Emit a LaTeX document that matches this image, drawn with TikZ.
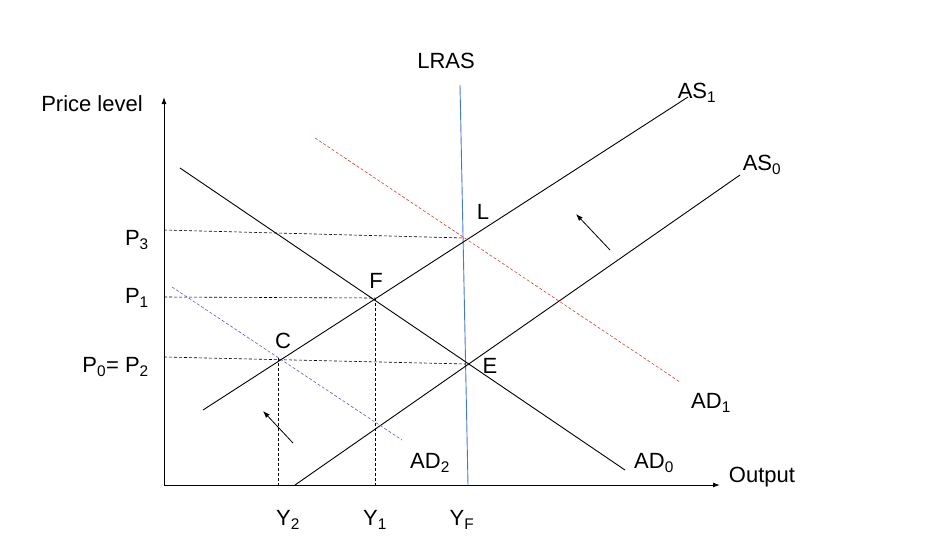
\documentclass[tikz,border=0pt]{standalone}
\usepackage{fontspec}
\setmainfont{Liberation Sans}
\usetikzlibrary{arrows.meta}
\newcommand{\sbs}[1]{\textsubscript{#1}}
\begin{document}
\begin{tikzpicture}[x=1pt,y=-1pt,
  lbl/.style={inner sep=0pt,font=\fontsize{22}{24}\selectfont},
  curve/.style={line width=0.9pt},
  guide/.style={dashed,line width=0.6pt,dash pattern=on 3pt off 2pt},
  ax/.style={line width=1pt,-{Latex[length=7pt,width=5pt]}}]
\useasboundingbox (0,0) rectangle (950,552);
% axes
\coordinate (O) at (164,485);
\coordinate (Ytop) at (164,97);
\coordinate (Xend) at (720,485);
\draw[ax] (O) -- (Ytop);
\draw[ax] (O) -- (Xend);
% curves
\coordinate (lr1) at (460,85); \coordinate (lr2) at (468,485);
\draw[curve,color={rgb,255:red,70;green,120;blue,210}] (lr1) -- (lr2);
\coordinate (as1a) at (203,410); \coordinate (as1b) at (688,97);
\draw[curve] (as1a) -- (as1b);
\coordinate (as0a) at (295,485); \coordinate (as0b) at (740,175);
\draw[curve] (as0a) -- (as0b);
\coordinate (ad0a) at (180,168); \coordinate (ad0b) at (625,470);
\draw[curve] (ad0a) -- (ad0b);
\coordinate (ad1a) at (315,138); \coordinate (ad1b) at (680,382);
\draw[guide,color={rgb,255:red,220;green,60;blue,50}] (ad1a) -- (ad1b);
\coordinate (ad2a) at (172,287); \coordinate (ad2b) at (402,440);
\draw[guide,color={rgb,255:red,110;green,80;blue,200}] (ad2a) -- (ad2b);
% points
\coordinate (L) at (464,238);
\coordinate (F) at (375,298);
\coordinate (C) at (278,358);
\coordinate (E) at (466,364);
\draw[guide] (164,230) -- (L);
\draw[guide] (164,297) -- (F);
\draw[guide] (164,357) -- (E);
\draw[guide] (C) -- (C |- O);
\draw[guide] (F) -- (F |- O);
% arrows
\coordinate (a1s) at (610,250); \coordinate (a1e) at (576,214);
\draw[line width=0.8pt,-{Latex[length=7pt,width=5pt]}] (a1s) -- (a1e);
\coordinate (a2s) at (293,443); \coordinate (a2e) at (263,411);
\draw[line width=0.8pt,-{Latex[length=7pt,width=5pt]}] (a2s) -- (a2e);
% labels
\node[lbl] (tLRAS) at (446,61) {LRAS};
\node[lbl] (tAS1) at (697,93) {AS\sbs{1}};
\node[lbl] (tAS0) at (762,165) {AS\sbs{0}};
\node[lbl] (tL) at (483,212) {L};
\node[lbl] (tF) at (376,281) {F};
\node[lbl] (tC) at (283,341) {C};
\node[lbl] (tE) at (490,366) {E};
\node[lbl] (tAD1) at (711,403) {AD\sbs{1}};
\node[lbl] (tAD2) at (430,463) {AD\sbs{2}};
\node[lbl] (tAD0) at (654,463) {AD\sbs{0}};
\node[lbl] (tOut) at (762,477) {Output};
\node[lbl] (tPL) at (92,104) {Price level};
\node[lbl,anchor=east] (tP3) at (149,240) {P\sbs{3}};
\node[lbl,anchor=east] (tP1) at (149,298) {P\sbs{1}};
\node[lbl,anchor=east] (tP0) at (149,367) {P\sbs{0}= P\sbs{2}};
\node[lbl] (tY2) at (288,520) {Y\sbs{2}};
\node[lbl] (tY1) at (375,520) {Y\sbs{1}};
\node[lbl] (tYF) at (462,520) {Y\sbs{F}};
\end{tikzpicture}
\end{document}
